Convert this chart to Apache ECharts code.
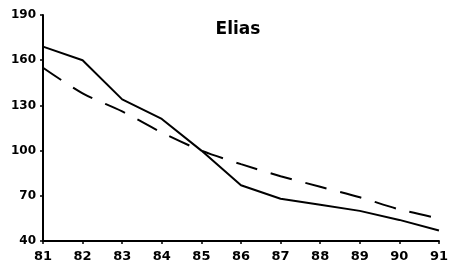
<!DOCTYPE html>
<html>
<head>
    <meta charset="UTF-8">
    <script type="text/javascript" src="https://cdn.jsdelivr.net/npm/echarts@6/dist/echarts.min.js"></script>
    <style type="text/css">
        body { margin: 0; background: #fff; }
        #chart { width: 451px; height: 271px; }
    </style>
</head>
<body>
<div id="chart"></div>
<script type="text/javascript">
    var years = ['81', '82', '83', '84', '85', '86', '87', '88', '89', '90', '91'];
    var actual = [169, 160, 134, 121, 100, 77, 68, 64, 60, 54, 47];
    var trend = [155, 138, 126, 112, 100, 91, 83, 76, 69, 61, 55];
    var yTicks = [40, 70, 100, 130, 160, 190];

    var myChart = echarts.init(document.getElementById('chart'));
    myChart.setOption({
        animation: false,
        title: {
            text: 'Elias',
            left: 233,
            top: 16,
            textAlign: 'center',
            textStyle: { fontFamily: 'DejaVu Sans', fontWeight: 'bold', fontSize: 17, color: '#000' }
        },
        grid: { left: 43, right: 9, top: 15, bottom: 30 },
        xAxis: {
            type: 'category',
            data: years,
            boundaryGap: false,
            axisLine: { lineStyle: { color: '#000', width: 2 } },
            axisTick: { length: 3, lineStyle: { color: '#000', width: 1.5 } },
            axisLabel: { color: '#000', fontWeight: 'bold', fontSize: 13, fontFamily: 'DejaVu Sans', margin: 9 }
        },
        yAxis: {
            type: 'value',
            min: yTicks[0],
            max: yTicks[yTicks.length - 1],
            interval: 30,
            axisLine: { show: true, lineStyle: { color: '#000', width: 2 } },
            axisTick: { show: true, length: 3, lineStyle: { color: '#000', width: 1.5 } },
            splitLine: { show: false },
            axisLabel: { color: '#000', fontWeight: 'bold', fontSize: 12, fontFamily: 'DejaVu Sans', margin: 7 }
        },
        series: [{
            name: 'actual',
            type: 'line',
            data: actual,
            symbol: 'none',
            lineStyle: { color: '#000', width: 2 }
        }, {
            name: 'trend',
            type: 'line',
            data: trend,
            symbol: 'none',
            smooth: 0.3,
            lineStyle: { color: '#000', width: 2, type: [22, 14] }
        }]
    });
</script>
</body>
</html>
